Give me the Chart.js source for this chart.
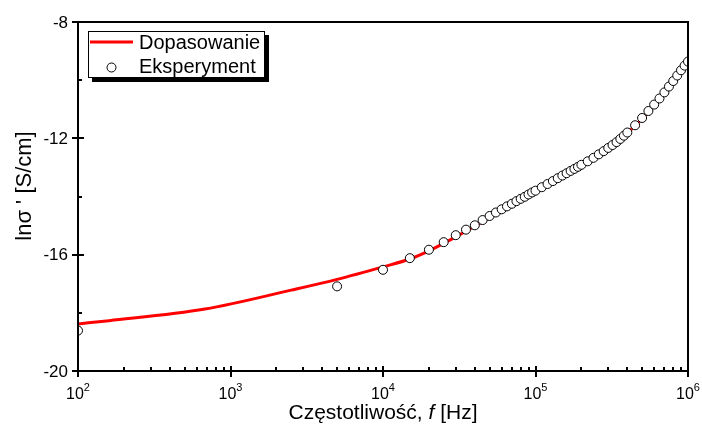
<!DOCTYPE html>
<html>
<head>
<meta charset="utf-8">
<script src="https://cdn.jsdelivr.net/npm/chart.js@4.4.0/dist/chart.umd.min.js"></script>
<style>
  html, body { margin: 0; padding: 0; background: #fff; }
  #wrap { width: 702px; height: 425px; }
</style>
</head>
<body>
<div id="wrap"><canvas id="myChart" width="702" height="425"></canvas></div>
<script>
// ----------------------- DANE -----------------------
const freqExp = [100, 5000, 10000, 15000, 20000, 25000, 30000, 35000, 40000, 45000, 50000, 55000,
    60000, 65000, 70000, 75000, 80000, 85000, 90000, 95000, 100000,
    110000, 120000, 130000, 140000, 150000, 160000, 170000, 180000, 190000, 200000,
    220000, 240000, 260000, 280000, 300000, 320000, 340000, 360000, 380000, 400000,
    450000, 500000, 550000, 600000, 650000, 700000, 750000, 800000, 850000, 900000, 950000, 1000000];
const sigmaExp = [-18.61, -17.09, -16.52, -16.12, -15.83, -15.57, -15.33, -15.14, -14.99, -14.81, -14.67, -14.55,
    -14.44, -14.34, -14.25, -14.16, -14.08, -14.01, -13.93, -13.86, -13.80,
    -13.68, -13.57, -13.47, -13.37, -13.28, -13.20, -13.12, -13.05, -12.98, -12.91,
    -12.79, -12.67, -12.55, -12.44, -12.33, -12.23, -12.13, -12.02, -11.91, -11.80,
    -11.55, -11.30, -11.06, -10.84, -10.63, -10.42, -10.22, -10.03, -9.84, -9.66, -9.50, -9.36];

const freqFit = [100, 160, 680, 2500, 5000, 10000, 15000, 20000, 30000, 50000, 70000,
    100000, 150000, 200000, 300000, 500000, 700000, 1000000];
const sigmaFit = [-18.38, -18.27, -17.87, -17.22, -16.85, -16.42, -16.15, -15.87, -15.39, -14.73, -14.28,
    -13.83, -13.31, -12.94, -12.36, -11.33, -10.45, -9.38];

const xTicks = [100, 1000, 10000, 100000, 1000000];
const xTickExp = ['2', '3', '4', '5', '6'];
const yTicks = [-20, -16, -12, -8];
const yMinor = [-18, -14, -10];

const FONT = '"Liberation Sans", Arial, sans-serif';

// ----------------------- OSIE, RAMKA, LEGENDA -----------------------
const osiePlugin = {
    id: 'osie',
    afterDraw(chart) {
        const ctx = chart.ctx;
        const xs = chart.scales.x, ys = chart.scales.y;
        const a = chart.chartArea;
        ctx.save();
        ctx.strokeStyle = '#000';
        ctx.fillStyle = '#000';
        ctx.lineWidth = 2;
        ctx.strokeRect(a.left, a.top, a.right - a.left, a.bottom - a.top);

        // x ticks
        ctx.beginPath();
        for (let d = 2; d < 6; d++) {
            for (let m = 2; m <= 9; m++) {
                const px = Math.round(xs.getPixelForValue(m * Math.pow(10, d)));
                ctx.moveTo(px, a.bottom);
                ctx.lineTo(px, a.bottom - 4);
            }
        }
        xTicks.forEach(v => {
            const px = Math.round(xs.getPixelForValue(v));
            ctx.moveTo(px, a.bottom - 5);
            ctx.lineTo(px, a.bottom + 6);
        });
        // y ticks
        yTicks.forEach(v => {
            const py = Math.round(ys.getPixelForValue(v));
            ctx.moveTo(a.left - 6, py);
            ctx.lineTo(a.left + 6, py);
        });
        yMinor.forEach(v => {
            const py = Math.round(ys.getPixelForValue(v));
            ctx.moveTo(a.left, py);
            ctx.lineTo(a.left + 4, py);
        });
        ctx.stroke();

        // y labels
        ctx.font = '17px ' + FONT;
        ctx.textAlign = 'right';
        ctx.textBaseline = 'middle';
        yTicks.forEach(v => {
            ctx.fillText(String(v), a.left - 10, ys.getPixelForValue(v) + 1);
        });

        // x labels 10^n
        ctx.textBaseline = 'alphabetic';
        ctx.textAlign = 'left';
        xTicks.forEach((v, i) => {
            ctx.font = '16px ' + FONT;
            const wb = ctx.measureText('10').width;
            ctx.font = '11px ' + FONT;
            const we = ctx.measureText(xTickExp[i]).width;
            const px = xs.getPixelForValue(v);
            const x0 = px - (wb + we) / 2;
            ctx.font = '16px ' + FONT;
            ctx.fillText('10', x0, a.bottom + 28);
            ctx.font = '11px ' + FONT;
            ctx.fillText(xTickExp[i], x0 + wb, a.bottom + 20);
        });

        // x title
        const p1 = 'Częstotliwość, ', p2 = 'f', p3 = ' [Hz]';
        ctx.font = '21px ' + FONT;
        const w1 = ctx.measureText(p1).width, w3 = ctx.measureText(p3).width;
        ctx.font = 'italic 21px ' + FONT;
        const w2 = ctx.measureText(p2).width;
        let tx = (a.left + a.right) / 2 - (w1 + w2 + w3) / 2;
        const ty = 419;
        ctx.font = '21px ' + FONT;
        ctx.fillText(p1, tx, ty);
        ctx.font = 'italic 21px ' + FONT;
        ctx.fillText(p2, tx + w1, ty);
        ctx.font = '21px ' + FONT;
        ctx.fillText(p3, tx + w1 + w2, ty);

        // y title
        ctx.save();
        ctx.translate(31, 186);
        ctx.rotate(-Math.PI / 2);
        ctx.textAlign = 'center';
        ctx.font = '22px ' + FONT;
        ctx.fillText("lnσ ' [S/cm]", 0, 0);
        ctx.restore();

        // legenda
        const lx = 88, ly = 31, lw = 176, lh = 46;
        ctx.fillStyle = '#000';
        ctx.fillRect(lx + 4, ly + 4, lw + 1, lh + 1);
        ctx.fillStyle = '#fff';
        ctx.fillRect(lx, ly, lw, lh);
        ctx.lineWidth = 1;
        ctx.strokeStyle = '#000';
        ctx.strokeRect(lx + 0.5, ly + 0.5, lw, lh);
        ctx.strokeStyle = '#f00';
        ctx.lineWidth = 3;
        ctx.beginPath();
        ctx.moveTo(90, 42);
        ctx.lineTo(133, 42);
        ctx.stroke();
        ctx.strokeStyle = '#000';
        ctx.lineWidth = 1;
        ctx.fillStyle = '#fff';
        ctx.beginPath();
        ctx.arc(111.5, 67.5, 4.5, 0, Math.PI * 2);
        ctx.fill();
        ctx.stroke();
        ctx.fillStyle = '#000';
        ctx.font = '20px ' + FONT;
        ctx.textAlign = 'left';
        ctx.textBaseline = 'middle';
        ctx.fillText('Dopasowanie', 139, 43);
        ctx.fillText('Eksperyment', 139, 67);
        ctx.restore();
    }
};

// ----------------------- WYKRES -----------------------
const ctx = document.getElementById('myChart');
const data = {
    datasets: [{
        label: 'Eksperyment',
        type: 'scatter',
        data: freqExp.map((f, i) => ({ x: f, y: sigmaExp[i] })),
        pointRadius: 4.5,
        pointBackgroundColor: '#fff',
        pointBorderColor: '#000',
        pointBorderWidth: 1,
        showLine: false,
        clip: 0,
        order: 1
    }, {
        label: 'Dopasowanie',
        type: 'line',
        data: freqFit.map((f, i) => ({ x: f, y: sigmaFit[i] })),
        borderColor: '#f00',
        borderWidth: 3,
        pointRadius: 0,
        cubicInterpolationMode: 'monotone',
        fill: false,
        clip: 0,
        order: 2
    }]
};

new Chart(ctx, {
    data: data,
    plugins: [osiePlugin],
    options: {
        responsive: false,
        animation: false,
        layout: { padding: { left: 78, right: 14, top: 22, bottom: 54 } },
        plugins: { legend: { display: false }, tooltip: { enabled: false } },
        scales: {
            x: { type: 'logarithmic', min: 100, max: 1000000, display: false },
            y: { type: 'linear', min: -20, max: -8, display: false }
        }
    }
});
</script>
</body>
</html>
